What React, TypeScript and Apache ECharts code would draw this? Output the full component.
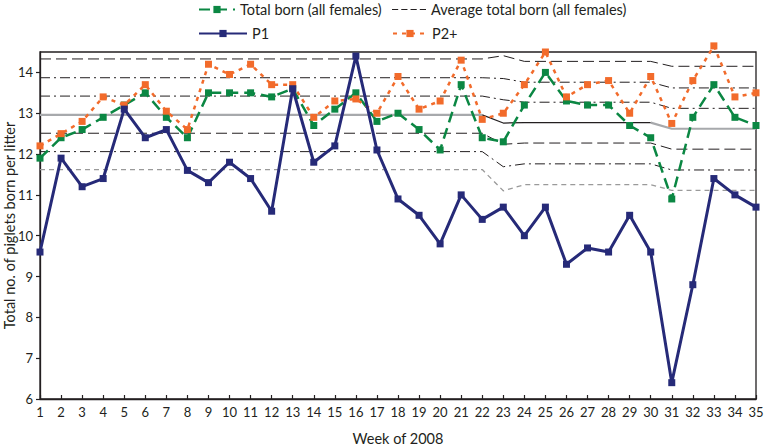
import React, { useEffect, useRef } from "react";
import * as echarts from "echarts";

const weeks = [1, 2, 3, 4, 5, 6, 7, 8, 9, 10, 11, 12, 13, 14, 15, 16, 17, 18, 19, 20, 21, 22, 23, 24, 25, 26, 27, 28, 29, 30, 31, 32, 33, 34, 35];
const totalBorn = [11.9, 12.4, 12.6, 12.9, 13.2, 13.5, 12.9, 12.4, 13.5, 13.5, 13.5, 13.4, 13.6, 12.7, 13.1, 13.5, 12.8, 13.0, 12.6, 12.1, 13.7, 12.4, 12.3, 13.2, 14.0, 13.3, 13.2, 13.2, 12.7, 12.4, 10.9, 12.9, 13.7, 12.9, 12.7];
const p1 = [9.6, 11.9, 11.2, 11.4, 13.1, 12.4, 12.6, 11.6, 11.3, 11.8, 11.4, 10.6, 13.6, 11.8, 12.2, 14.4, 12.1, 10.9, 10.5, 9.8, 11.0, 10.4, 10.7, 10.0, 10.7, 9.3, 9.7, 9.6, 10.5, 9.6, 6.4, 8.8, 11.4, 11.0, 10.7];
const p2plus = [12.2, 12.5, 12.8, 13.4, 13.2, 13.7, 13.05, 12.6, 14.2, 13.95, 14.2, 13.7, 13.7, 12.9, 13.3, 13.35, 13.0, 13.9, 13.1, 13.3, 14.3, 12.85, 13.0, 13.7, 14.5, 13.4, 13.7, 13.8, 13.0, 13.9, 12.75, 13.8, 14.65, 13.4, 13.5];

// Average total born (all females) reference lines, at the weeks where they change
const avgWeeks = [1, 22, 23, 24, 30, 31, 35];
const refPlus3 = [14.33, 14.33, 14.41, 14.27, 14.27, 14.15, 14.15];
const refPlus2 = [13.87, 13.87, 13.85, 13.76, 13.76, 13.62, 13.62];
const refPlus1 = [13.42, 13.42, 13.33, 13.27, 13.27, 13.12, 13.12];
const refMean = [12.96, 12.96, 12.76, 12.77, 12.77, 12.62, 12.62];
const refMinus1 = [12.51, 12.51, 12.24, 12.27, 12.27, 12.12, 12.12];
const refMinus2 = [12.06, 12.06, 11.69, 11.76, 11.76, 11.61, 11.61];
const refMinus3 = [11.62, 11.62, 11.1, 11.25, 11.25, 11.11, 11.11];

const yTicks = [6, 7, 8, 9, 10, 11, 12, 13, 14];

const FONT = "Lato";
const GREEN = "#0b8743";
const NAVY = "#262a78";
const ORANGE = "#f26b2b";
const INK = "#231f20";

const pairs = (xs: number[], ys: number[]) => xs.map((x, i) => [x, ys[i]]);

export default function App() {
  const ref = useRef<HTMLDivElement>(null);
  useEffect(() => {
    if (!ref.current) return;
    const chart = echarts.init(ref.current, null, { renderer: "svg" });
    const refLine = (name: string, ys: number[], color: string, dash: number[], width = 1) => ({
      type: "line",
      name,
      data: pairs(avgWeeks, ys),
      symbol: "none",
      silent: true,
      z: 1,
      itemStyle: { color },
      lineStyle: { color, width, type: dash },
    });
    const meanPairs = pairs(avgWeeks, refMean);
    const legendText = { fontFamily: FONT, fontSize: 14.5, color: INK };
    const legendBase = { padding: 0, itemHeight: 9, textStyle: legendText };
    chart.setOption({
      animation: false,
      textStyle: { fontFamily: FONT },
      grid: {
        left: 40, right: 13, top: 52, bottom: 49, outerBoundsMode: "none", containLabel: false,
        show: true, borderColor: INK, borderWidth: 1.3,
      },
      legend: [
        { ...legendBase, left: 198, top: 2, itemWidth: 36, data: ["Total born (all females)"] },
        {
          ...legendBase, left: 392, top: 2, itemWidth: 34,
          data: [{ name: "Average total born (all females)", icon: "path://M0,0h6v1h-6z M9,0h6v1h-6z M18,0h6v1h-6z M27,0h6v1h-6z" }],
        },
        { ...legendBase, left: 198, top: 26, itemWidth: 48, data: ["P1"] },
        { ...legendBase, left: 392, top: 26, itemWidth: 34, data: ["P2+"] },
      ],
      xAxis: {
        type: "value",
        min: 1,
        max: 35,
        interval: 1,
        name: "Week of 2008",
        nameLocation: "middle",
        nameGap: 32,
        nameMoveOverlap: false,
        nameTextStyle: { fontFamily: FONT, fontSize: 14.5, color: INK },
        axisLine: { lineStyle: { color: INK, width: 1.3 } },
        axisTick: { inside: true, length: 4, lineStyle: { color: INK, width: 1.2 } },
        axisLabel: { margin: 6, fontFamily: FONT, fontSize: 13, color: INK },
        splitLine: { show: false },
      },
      yAxis: {
        type: "value",
        min: 6,
        max: 14.5,
        interval: 1,
        name: "Total no. of piglets born per litter",
        nameLocation: "middle",
        nameGap: 23,
        nameMoveOverlap: false,
        nameTextStyle: { fontFamily: FONT, fontSize: 14.5, color: INK },
        axisLine: { show: true, lineStyle: { color: INK, width: 1.3 } },
        axisTick: { show: true, length: 4, customValues: yTicks, lineStyle: { color: INK, width: 1.2 } },
        axisLabel: { margin: 7, fontFamily: FONT, fontSize: 13, color: INK, customValues: yTicks },
        splitLine: { show: false },
      },
      series: [
        refLine("Average total born (all females)", refPlus3, INK, [11, 5]),
        refLine("ref+2", refPlus2, INK, [10, 4, 2, 4]),
        refLine("ref+1", refPlus1, INK, [10, 4, 2, 4]),
        {
          type: "line", name: "mean-a", data: meanPairs.slice(0, 2), symbol: "none", silent: true, z: 1,
          lineStyle: { color: "#a7a9ac", width: 2.2, type: "solid" },
        },
        {
          type: "line", name: "mean-b", data: meanPairs.slice(1, 5), symbol: "none", silent: true, z: 1,
          lineStyle: { color: INK, width: 1.2, type: "solid" },
        },
        {
          type: "line", name: "mean-c", data: meanPairs.slice(4), symbol: "none", silent: true, z: 1,
          lineStyle: { color: "#a7a9ac", width: 2.2, type: "solid" },
        },
        refLine("ref-1", refMinus1, INK, [11, 5]),
        refLine("ref-2", refMinus2, INK, [10, 4, 2, 4]),
        refLine("ref-3", refMinus3, "#9a9a9a", [5, 4], 1.3),
        {
          type: "line",
          name: "Total born (all females)",
          data: pairs(weeks, totalBorn),
          symbol: "rect",
          symbolSize: 7,
          z: 3,
          itemStyle: { color: GREEN },
          lineStyle: { color: GREEN, width: 2.5, type: [11, 6] },
        },
        {
          type: "line",
          name: "P2+",
          data: pairs(weeks, p2plus),
          symbol: "rect",
          symbolSize: 7,
          clip: false,
          z: 4,
          itemStyle: { color: ORANGE },
          lineStyle: { color: ORANGE, width: 2.5, type: [4, 5] },
        },
        {
          type: "line",
          name: "P1",
          data: pairs(weeks, p1),
          symbol: "rect",
          symbolSize: 7,
          z: 5,
          itemStyle: { color: NAVY },
          lineStyle: { color: NAVY, width: 3 },
        },
      ],
    });
    return () => chart.dispose();
  }, []);
  return <div ref={ref} style={{ width: 769, height: 448, position: "absolute", left: 0, top: 0 }} />;
}
